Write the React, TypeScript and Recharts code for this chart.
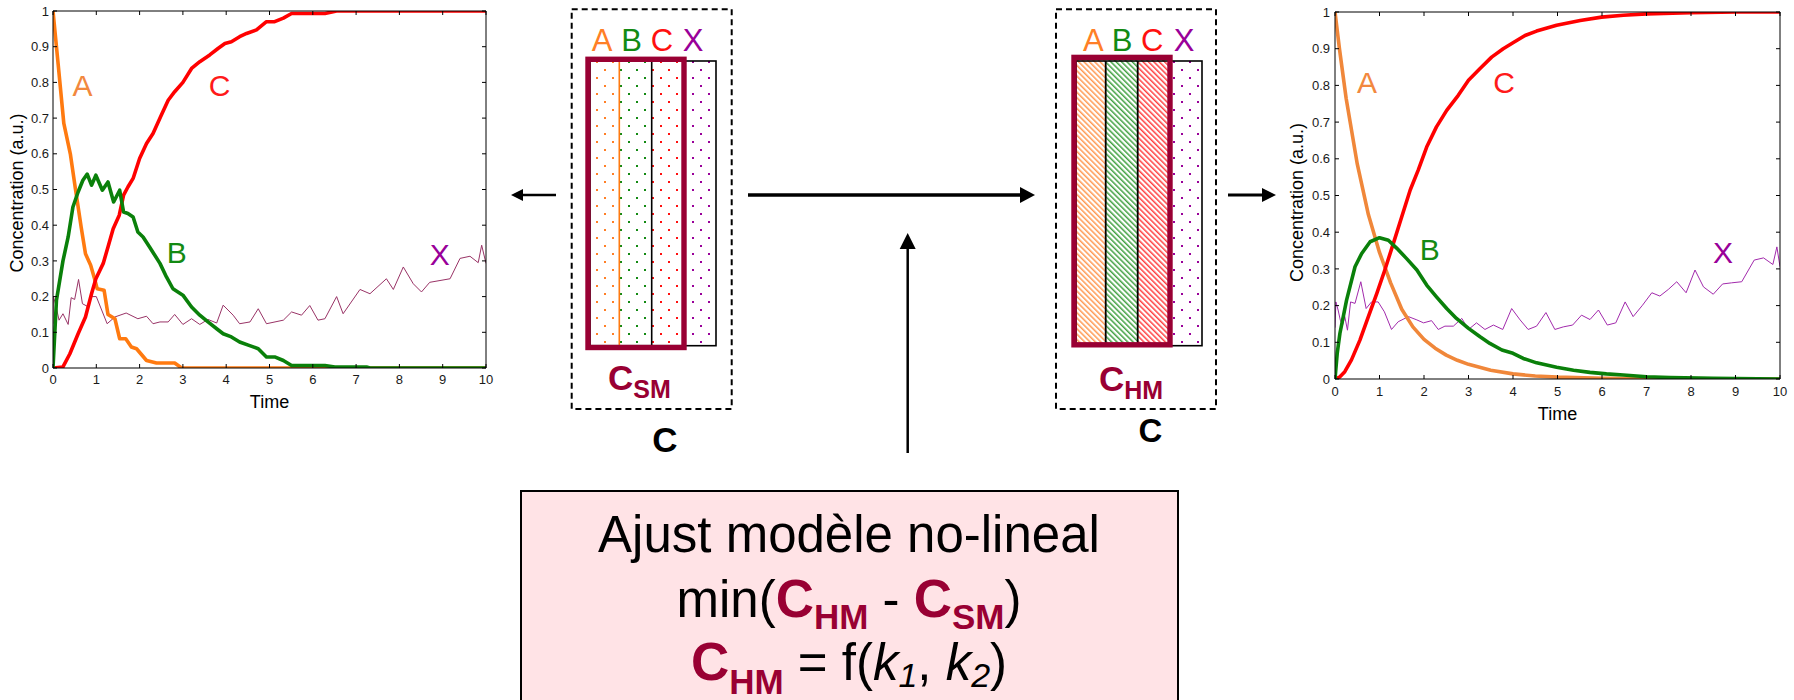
import React from 'react';
import { LineChart, Line, XAxis, YAxis, ReferenceDot } from 'recharts';

type Pt = [number, number];

const TIME_TICKS = [0, 1, 2, 3, 4, 5, 6, 7, 8, 9, 10];
const CONC_TICKS = [0, 0.1, 0.2, 0.3, 0.4, 0.5, 0.6, 0.7, 0.8, 0.9, 1];

// soft-model (left) curves as [time, concentration]
const smA: Pt[] = [
  [0, 1], [0.12, 0.85], [0.25, 0.685], [0.4, 0.6], [0.52, 0.5], [0.65, 0.395], [0.75, 0.32],
  [0.87, 0.288], [0.96, 0.25], [1.02, 0.222], [1.18, 0.218], [1.27, 0.15], [1.43, 0.138],
  [1.54, 0.082], [1.68, 0.082], [1.81, 0.059], [1.93, 0.054], [2.16, 0.021], [2.39, 0.014],
  [2.81, 0.014], [2.97, 0], [10, 0],
];
const smB: Pt[] = [
  [0, 0], [0.08, 0.19], [0.23, 0.3], [0.35, 0.367], [0.46, 0.451], [0.58, 0.493], [0.69, 0.526],
  [0.79, 0.543], [0.89, 0.512], [0.99, 0.54], [1.14, 0.498], [1.27, 0.521], [1.4, 0.465],
  [1.54, 0.498], [1.63, 0.437], [1.73, 0.433], [1.85, 0.423], [1.96, 0.381], [2.08, 0.367],
  [2.23, 0.339], [2.47, 0.293], [2.62, 0.255], [2.77, 0.222], [3.0, 0.204], [3.2, 0.171],
  [3.39, 0.148], [3.58, 0.129], [3.78, 0.11], [3.93, 0.096], [4.12, 0.087], [4.31, 0.073],
  [4.51, 0.064], [4.74, 0.054], [4.93, 0.031], [5.12, 0.031], [5.32, 0.021], [5.51, 0.007],
  [6.28, 0.007], [6.51, 0.003], [7.24, 0.003], [7.32, 0], [10, 0],
];
const smC: Pt[] = [
  [0, 0], [0.23, 0.003], [0.39, 0.04], [0.58, 0.096], [0.75, 0.143], [0.89, 0.208], [0.99, 0.25],
  [1.16, 0.293], [1.27, 0.339], [1.39, 0.39], [1.53, 0.428], [1.63, 0.484], [1.73, 0.507],
  [1.85, 0.531], [2.0, 0.587], [2.16, 0.629], [2.31, 0.657], [2.5, 0.708], [2.66, 0.75],
  [2.81, 0.774], [3.0, 0.8], [3.2, 0.839], [3.39, 0.858], [3.62, 0.877], [3.81, 0.895],
  [3.97, 0.909], [4.12, 0.914], [4.31, 0.928], [4.47, 0.937], [4.7, 0.947], [4.93, 0.97],
  [5.12, 0.97], [5.32, 0.98], [5.51, 0.993], [6.28, 0.993], [6.55, 1], [10, 1],
];
const smX: Pt[] = [
  [0, 0.124], [0.01, 0.2], [0.06, 0.178], [0.14, 0.134], [0.23, 0.152], [0.35, 0.122], [0.42, 0.197],
  [0.5, 0.192], [0.59, 0.248], [0.68, 0.18], [0.79, 0.173], [0.89, 0.2], [1.0, 0.2], [1.25, 0.124],
  [1.43, 0.143], [1.69, 0.154], [1.96, 0.138], [2.16, 0.145], [2.31, 0.124], [2.47, 0.129],
  [2.66, 0.129], [2.81, 0.15], [3.0, 0.122], [3.2, 0.138], [3.39, 0.122], [3.58, 0.136],
  [3.78, 0.126], [3.93, 0.176], [4.16, 0.148], [4.31, 0.124], [4.55, 0.129], [4.74, 0.166],
  [4.93, 0.124], [5.32, 0.134], [5.51, 0.157], [5.74, 0.148], [5.93, 0.175], [6.12, 0.134],
  [6.28, 0.138], [6.55, 0.2], [6.7, 0.152], [7.09, 0.22], [7.32, 0.208], [7.7, 0.25],
  [7.86, 0.22], [8.09, 0.283], [8.32, 0.236], [8.51, 0.213], [8.7, 0.24], [9.17, 0.25],
  [9.4, 0.307], [9.63, 0.313], [9.82, 0.295], [9.9, 0.344], [10, 0.293],
];

// hard-model (right) curves
const hmA: Pt[] = [
  [0, 1], [0.1, 0.9], [0.25, 0.765], [0.5, 0.586], [0.75, 0.448], [1, 0.345], [1.25, 0.262],
  [1.5, 0.19], [1.75, 0.142], [2, 0.108], [2.25, 0.084], [2.5, 0.065], [2.75, 0.051], [3, 0.04],
  [3.5, 0.024], [4, 0.014], [4.5, 0.008], [5, 0.005], [6, 0.002], [7, 0.001], [10, 0],
];
const hmB: Pt[] = [
  [0, 0], [0.05, 0.07], [0.11, 0.124], [0.26, 0.215], [0.45, 0.306], [0.6, 0.342], [0.79, 0.374],
  [1.0, 0.385], [1.2, 0.378], [1.39, 0.356], [1.61, 0.328], [1.84, 0.297], [2.06, 0.256],
  [2.28, 0.224], [2.51, 0.192], [2.73, 0.165], [3.0, 0.138], [3.26, 0.115], [3.48, 0.097],
  [3.75, 0.079], [4.0, 0.07], [4.23, 0.056], [4.53, 0.044], [4.98, 0.032], [5.36, 0.024],
  [5.73, 0.018], [6.1, 0.014], [6.48, 0.011], [7.0, 0.006], [7.53, 0.004], [8.5, 0.002], [10, 0],
];
const hmC: Pt[] = [
  [0, 0], [0.1, 0.005], [0.22, 0.02], [0.37, 0.052], [0.56, 0.106], [0.75, 0.17], [0.94, 0.233],
  [1.12, 0.297], [1.31, 0.369], [1.5, 0.442], [1.69, 0.515], [1.87, 0.569], [2.06, 0.632],
  [2.28, 0.687], [2.51, 0.732], [2.77, 0.773], [3.0, 0.814], [3.26, 0.846], [3.52, 0.877],
  [3.78, 0.9], [4.0, 0.916], [4.27, 0.936], [4.53, 0.948], [4.98, 0.964], [5.51, 0.977],
  [5.99, 0.986], [6.48, 0.991], [7.0, 0.995], [7.98, 0.998], [9.03, 1], [10, 1],
];
const hmX: Pt[] = [
  [0, 0.14], [0.02, 0.21], [0.07, 0.188], [0.12, 0.16], [0.17, 0.147], [0.22, 0.17], [0.28, 0.133],
  [0.35, 0.21], [0.45, 0.206], [0.58, 0.265], [0.7, 0.192], [0.82, 0.21], [0.97, 0.21],
  [1.11, 0.183], [1.27, 0.135], [1.42, 0.156], [1.65, 0.17], [1.84, 0.161], [1.99, 0.153],
  [2.17, 0.159], [2.32, 0.135], [2.47, 0.144], [2.66, 0.144], [2.85, 0.165], [3.0, 0.135],
  [3.18, 0.153], [3.37, 0.135], [3.56, 0.147], [3.77, 0.135], [3.97, 0.192], [4.16, 0.161],
  [4.34, 0.135], [4.53, 0.144], [4.74, 0.181], [4.94, 0.135], [5.13, 0.142], [5.34, 0.147],
  [5.54, 0.174], [5.73, 0.162], [5.92, 0.188], [6.12, 0.147], [6.31, 0.153], [6.52, 0.21],
  [6.7, 0.17], [6.91, 0.201], [7.12, 0.235], [7.3, 0.226], [7.49, 0.244], [7.68, 0.265],
  [7.89, 0.235], [8.09, 0.297], [8.28, 0.251], [8.5, 0.231], [8.71, 0.259], [8.91, 0.262],
  [9.14, 0.265], [9.42, 0.324], [9.63, 0.33], [9.84, 0.312], [9.93, 0.36], [10, 0.306],
];

// where the curve names sit, in data units
const smNotes = [
  { text: 'A', t: 0.68, v: 0.793, color: '#f2883e' },
  { text: 'C', t: 3.85, v: 0.793, color: '#ff1a1a' },
  { text: 'B', t: 2.86, v: 0.325, color: '#138a13' },
  { text: 'X', t: 8.93, v: 0.317, color: '#990099' },
];
const hmNotes = [
  { text: 'A', t: 0.72, v: 0.809, color: '#f2883e' },
  { text: 'C', t: 3.8, v: 0.809, color: '#ff1a1a' },
  { text: 'B', t: 2.13, v: 0.354, color: '#138a13' },
  { text: 'X', t: 8.72, v: 0.346, color: '#990099' },
];

const FONT = '"Liberation Sans", Arial, Helvetica, sans-serif';
const MAROON = '#990033';

const toRows = (pts: Pt[]) => pts.map(([t, v]) => ({ t, v }));
const fmtConc = (v: number) => (v === 0 || v === 1 ? String(v) : v.toFixed(1));

const smSeries = [
  { key: 'X', rows: toRows(smX), color: '#993366', width: 1 },
  { key: 'A', rows: toRows(smA), color: '#ff7a10', width: 3.6 },
  { key: 'C', rows: toRows(smC), color: '#ff0000', width: 3.6 },
  { key: 'B', rows: toRows(smB), color: '#0a800a', width: 3.6 },
];
const hmSeries = [
  { key: 'X', rows: toRows(hmX), color: '#a22aac', width: 1 },
  { key: 'A', rows: toRows(hmA), color: '#f0873a', width: 3.6 },
  { key: 'C', rows: toRows(hmC), color: '#ff0000', width: 3.6 },
  { key: 'B', rows: toRows(hmB), color: '#0a800a', width: 3.6 },
];

const axisStroke = { stroke: '#000', strokeWidth: 1 };

// explicit tick text so the size is exactly what the figure uses
const TimeTick = (props: any) => (
  <text x={props.x} y={props.y} dy="0.72em" textAnchor="middle" fontSize={13} fontFamily={FONT} fill="#1a1a1a">
    {props.payload.value}
  </text>
);
const ConcTick = (props: any) => (
  <text x={props.x} y={props.y} dy="0.36em" textAnchor="end" fontSize={13} fontFamily={FONT} fill="#1a1a1a">
    {fmtConc(props.payload.value)}
  </text>
);

interface KineticsProps {
  width: number;
  height: number;
  top: number;
  right: number;
  yWidth: number;
  xHeight: number;
  xTickGap: number;
  yTickGap: number;
  timeOffset: number;
  yLabelAt: { x: number; y: number };
  series: typeof smSeries;
  notes: typeof smNotes;
}

// the top and right axes are 1px thick: recharts skips axes with a zero size
function Kinetics(p: KineticsProps) {
  return (
    <LineChart width={p.width} height={p.height} margin={{ top: p.top - 1, right: p.right - 1, bottom: 0, left: 0 }}>
      <XAxis
        xAxisId="b"
        type="number"
        dataKey="t"
        domain={[0, 10]}
        ticks={TIME_TICKS}
        interval={0}
        allowDataOverflow
        height={p.xHeight}
        tickSize={-4}
        tickMargin={p.xTickGap}
        axisLine={axisStroke}
        tickLine={axisStroke}
        tick={TimeTick}
        label={{ value: 'Time', position: 'insideBottom', offset: p.timeOffset, fontSize: 18, fill: '#000', fontFamily: FONT }}
      />
      <XAxis
        xAxisId="t"
        orientation="top"
        type="number"
        dataKey="t"
        domain={[0, 10]}
        ticks={TIME_TICKS}
        interval={0}
        allowDataOverflow
        height={1}
        tickSize={-4}
        axisLine={axisStroke}
        tickLine={axisStroke}
        tickFormatter={() => ''}
      />
      <YAxis
        yAxisId="l"
        type="number"
        domain={[0, 1]}
        ticks={CONC_TICKS}
        interval={0}
        allowDataOverflow
        width={p.yWidth}
        tickSize={-4}
        tickMargin={p.yTickGap}
        axisLine={axisStroke}
        tickLine={axisStroke}
        tick={ConcTick}
        label={{
          value: 'Concentration (a.u.)',
          angle: -90,
          position: p.yLabelAt,
          fontSize: 18,
          fill: '#000',
          fontFamily: FONT,
          style: { textAnchor: 'middle' },
        }}
      />
      <YAxis
        yAxisId="r"
        orientation="right"
        type="number"
        domain={[0, 1]}
        ticks={CONC_TICKS}
        interval={0}
        allowDataOverflow
        width={1}
        tickSize={-4}
        axisLine={axisStroke}
        tickLine={axisStroke}
        tickFormatter={() => ''}
      />
      {/* invisible copy so the top and right frame axes get a domain */}
      <Line
        xAxisId="t"
        yAxisId="r"
        data={p.series[0].rows}
        dataKey="v"
        stroke="none"
        strokeOpacity={0}
        dot={false}
        activeDot={false}
        legendType="none"
        isAnimationActive={false}
      />
      {p.series.map((s) => (
        <Line
          key={s.key}
          xAxisId="b"
          yAxisId="l"
          data={s.rows}
          dataKey="v"
          type="linear"
          stroke={s.color}
          strokeWidth={s.width}
          strokeLinejoin="round"
          dot={false}
          activeDot={false}
          isAnimationActive={false}
        />
      ))}
      {p.notes.map((n) => (
        <ReferenceDot
          key={n.text}
          xAxisId="b"
          yAxisId="l"
          x={n.t}
          y={n.v}
          r={0}
          fill="none"
          stroke="none"
          label={{ value: n.text, position: 'center', fontSize: 30, fill: n.color, fontFamily: FONT }}
        />
      ))}
    </LineChart>
  );
}

const SPECIES = ['A', 'B', 'C', 'X'];
const SPECIES_COLORS = ['#ff7f27', '#138a13', '#ff1010', '#990099'];

function Diagram() {
  const leftCols = [588, 619.3, 651.7, 684, 716];
  const rightCols = [1074, 1105.7, 1137.7, 1170, 1202];
  const leftLetters = [602, 631.5, 662, 693];
  const rightLetters = [1093.3, 1122, 1152.3, 1184];
  const dotFills = ['url(#dotA)', 'url(#dotB)', 'url(#dotC)', 'url(#dotX)'];
  const hatchFills = ['url(#hatchA)', 'url(#hatchB)', 'url(#hatchC)', 'url(#dotX2)'];
  return (
    <svg width={1794} height={700} style={{ position: 'absolute', left: 0, top: 0 }} fontFamily={FONT}>
      <defs>
        {['A', 'B', 'C', 'X'].map((k, i) => (
          <pattern key={k} id={`dot${k}`} x={596} y={61} width={16} height={16} patternUnits="userSpaceOnUse">
            <rect x={0} y={0} width={2} height={2} fill={SPECIES_COLORS[i]} />
            <rect x={8} y={8} width={2} height={2} fill={SPECIES_COLORS[i]} />
          </pattern>
        ))}
        <pattern id="dotX2" x={1181} y={69} width={16} height={16} patternUnits="userSpaceOnUse">
          <rect x={0} y={0} width={2} height={2} fill="#990099" />
          <rect x={8} y={8} width={2} height={2} fill="#990099" />
        </pattern>
        {['A', 'B', 'C'].map((k, i) => (
          <pattern key={k} id={`hatch${k}`} width={3.8} height={3.8} patternUnits="userSpaceOnUse" patternTransform="rotate(-45)">
            <rect x={0} y={0} width={3.8} height={3.8} fill="#fff" />
            <line x1={0.8} y1={0} x2={0.8} y2={3.8} stroke={SPECIES_COLORS[i]} strokeWidth={1.2} />
          </pattern>
        ))}
      </defs>

      {/* dashed C boxes */}
      <rect x={571.7} y={9.3} width={160} height={399.7} fill="none" stroke="#000" strokeWidth={2} strokeDasharray="6 4" />
      <rect x={1056} y={9.3} width={160} height={399.7} fill="none" stroke="#000" strokeWidth={2} strokeDasharray="6 4" />

      {/* column letters */}
      {SPECIES.map((s, i) => (
        <text key={`l${s}`} x={leftLetters[i]} y={50.5} fontSize={31} textAnchor="middle" fill={SPECIES_COLORS[i]}>{s}</text>
      ))}
      {SPECIES.map((s, i) => (
        <text key={`r${s}`} x={rightLetters[i]} y={50.5} fontSize={31} textAnchor="middle" fill={SPECIES_COLORS[i]}>{s}</text>
      ))}

      {/* soft model matrix */}
      {dotFills.map((f, i) => (
        <rect key={f} x={leftCols[i]} y={60} width={leftCols[i + 1] - leftCols[i]} height={286} fill={f} />
      ))}
      <rect x={590} y={61} width={126} height={284.7} fill="none" stroke="#000" strokeWidth={1.6} />
      <line x1={619.3} y1={61} x2={619.3} y2={346} stroke="#ff7a10" strokeWidth={1.6} />
      <line x1={651.7} y1={61} x2={651.7} y2={346} stroke="#000" strokeWidth={1.6} />
      <rect x={588} y={59.3} width={96} height={288.2} fill="none" stroke={MAROON} strokeWidth={5.4} />

      {/* hard model matrix */}
      {hatchFills.map((f, i) => (
        <rect key={f} x={rightCols[i]} y={60} width={rightCols[i + 1] - rightCols[i]} height={286} fill={f} />
      ))}
      <rect x={1076} y={61} width={126} height={284.7} fill="none" stroke="#000" strokeWidth={1.6} />
      <line x1={1105.7} y1={61} x2={1105.7} y2={346} stroke="#000" strokeWidth={1.8} />
      <line x1={1137.7} y1={61} x2={1137.7} y2={346} stroke="#000" strokeWidth={1.8} />
      <rect x={1074} y={57.4} width={96} height={287.4} fill="none" stroke={MAROON} strokeWidth={5.4} />

      {/* matrix names */}
      <text x={608} y={390} fill={MAROON} fontWeight="bold" fontSize={35}>
        C<tspan fontSize={25} dy={8}>SM</tspan>
      </text>
      <text x={1099} y={391} fill={MAROON} fontWeight="bold" fontSize={35}>
        C<tspan fontSize={25} dy={8}>HM</tspan>
      </text>
      <text x={665} y={452} fontWeight="bold" fontSize={35} textAnchor="middle" fill="#000">C</text>
      <text x={1150.3} y={442} fontWeight="bold" fontSize={33} textAnchor="middle" fill="#000">C</text>

      {/* arrows */}
      <line x1={556} y1={195} x2={520} y2={195} stroke="#000" strokeWidth={2.6} />
      <polygon points="511,195 523,189 523,201" fill="#000" />
      <line x1={748} y1={195} x2={1022} y2={195} stroke="#000" strokeWidth={3.3} />
      <polygon points="1035,195 1020,187 1020,203" fill="#000" />
      <line x1={907.7} y1={453} x2={907.7} y2={246} stroke="#000" strokeWidth={2.5} />
      <polygon points="907.7,233 899.7,249 915.7,249" fill="#000" />
      <line x1={1228} y1={195} x2={1264} y2={195} stroke="#000" strokeWidth={3} />
      <polygon points="1276,195 1262,188 1262,202" fill="#000" />

      {/* fitting box */}
      <rect x={521} y={491} width={657} height={240} fill="#ffe3e6" stroke="#000" strokeWidth={2} />
      <g style={{ whiteSpace: 'pre' }} fill="#000">
        <text x={849} y={552} fontSize={51} textAnchor="middle">Ajust modèle no-lineal</text>
        <text x={849} y={617} fontSize={51} textAnchor="middle">
          min(
          <tspan fill={MAROON} fontWeight="bold" fontSize={53}>C</tspan>
          <tspan fill={MAROON} fontWeight="bold" fontSize={35} dy={12}>HM</tspan>
          <tspan dy={-12}> - </tspan>
          <tspan fill={MAROON} fontWeight="bold" fontSize={53}>C</tspan>
          <tspan fill={MAROON} fontWeight="bold" fontSize={35} dy={12}>SM</tspan>
          <tspan dy={-12}>)</tspan>
        </text>
        <text x={849} y={680} fontSize={51} textAnchor="middle">
          <tspan fill={MAROON} fontWeight="bold" fontSize={53}>C</tspan>
          <tspan fill={MAROON} fontWeight="bold" fontSize={35} dy={14}>HM</tspan>
          <tspan dy={-14}> = f(</tspan>
          <tspan fontStyle="italic">k</tspan>
          <tspan fontStyle="italic" fontSize={34} dy={7}>1</tspan>
          <tspan dy={-7}>, </tspan>
          <tspan fontStyle="italic">k</tspan>
          <tspan fontStyle="italic" fontSize={34} dy={7}>2</tspan>
          <tspan dy={-7}>)</tspan>
        </text>
      </g>
    </svg>
  );
}

export default function App() {
  return (
    <div style={{ position: 'absolute', left: 0, top: 0, width: 1794, height: 700, background: '#fff', overflow: 'hidden', fontFamily: FONT }}>
      <Diagram />
      <div style={{ position: 'absolute', left: 0, top: 0 }}>
        <Kinetics
          width={500}
          height={420}
          top={11}
          right={14}
          yWidth={53}
          xHeight={52}
          xTickGap={11}
          yTickGap={8}
          timeOffset={11.6}
          yLabelAt={{ x: 23.4, y: 182 }}
          series={smSeries}
          notes={smNotes}
        />
      </div>
      <div style={{ position: 'absolute', left: 1280, top: 0 }}>
        <Kinetics
          width={514}
          height={440}
          top={12}
          right={14}
          yWidth={55}
          xHeight={61}
          xTickGap={12}
          yTickGap={9}
          timeOffset={20.5}
          yLabelAt={{ x: 23.4, y: 190.5 }}
          series={hmSeries}
          notes={hmNotes}
        />
      </div>
    </div>
  );
}
